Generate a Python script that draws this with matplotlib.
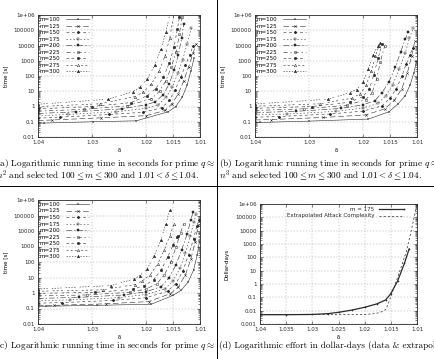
import matplotlib
matplotlib.use('Agg')
import matplotlib.pyplot as plt
from matplotlib.ticker import FixedLocator, NullFormatter, LogLocator

plt.rcParams['lines.scale_dashes'] = False
plt.rcParams['mathtext.fontset'] = 'cm'

W, H = 434, 359
M_VALUES = [100, 125, 150, 175, 200, 225, 250, 275, 300]

# ---------------------------------------------------------------
# (a) q ~ n^2 : delta / time per m
# ---------------------------------------------------------------
A_DELTA = [
    [1.0400, 1.0388, 1.0298, 1.0218, 1.0159, 1.0145, 1.0133, 1.0124, 1.0117, 1.0111],
    [1.0400, 1.0375, 1.0283, 1.0200, 1.0165, 1.0152, 1.0140, 1.0130, 1.0121, 1.0113, 1.0107],
    [1.0400, 1.0360, 1.0268, 1.0205, 1.0170, 1.0157, 1.0146, 1.0136, 1.0127, 1.0119, 1.0113],
    [1.0400, 1.0345, 1.0255, 1.0200, 1.0177, 1.0163, 1.0151, 1.0141, 1.0132, 1.0124, 1.0116],
    [1.0400, 1.0330, 1.0245, 1.0200, 1.0183, 1.0168, 1.0157, 1.0148, 1.0140, 1.0134, 1.0130],
    [1.0400, 1.0315, 1.0235, 1.0190, 1.0175, 1.0163, 1.0153, 1.0144, 1.0138, 1.0133],
    [1.0400, 1.0300, 1.0228, 1.0198, 1.0182, 1.0168, 1.0157, 1.0148, 1.0142, 1.0138],
    [1.0400, 1.0285, 1.0220, 1.0205, 1.0190, 1.0176, 1.0165, 1.0156, 1.0148],
    [1.0400, 1.0270, 1.0225, 1.0212, 1.0198, 1.0184, 1.0172, 1.0163, 1.0155],
]
A_TIME = [
    [0.080, 0.082, 0.10, 0.115, 0.45, 1.0, 4.0, 25, 200, 1500],
    [0.12, 0.13, 0.18, 0.25, 0.55, 1.5, 7, 50, 400, 3000, 13000],
    [0.17, 0.20, 0.30, 0.42, 0.85, 2.5, 12, 80, 500, 2500, 9000],
    [0.25, 0.30, 0.45, 0.75, 1.3, 4, 20, 150, 1200, 12000, 140000],
    [0.35, 0.45, 0.70, 1.3, 2.0, 6, 30, 250, 2500, 30000, 250000],
    [0.50, 0.65, 1.1, 3.2, 10, 50, 400, 4000, 60000, 700000],
    [0.70, 1.0, 1.8, 5, 15, 80, 700, 8000, 120000, 700000],
    [1.0, 1.5, 4.5, 9, 30, 200, 2000, 30000, 1500000],
    [1.4, 3.0, 9, 18, 60, 500, 6000, 80000, 1500000],
]

# ---------------------------------------------------------------
# (b) q ~ n^3
# ---------------------------------------------------------------
B_DELTA = [
    [1.0400, 1.0390, 1.0300, 1.0190, 1.0152, 1.0135, 1.0122, 1.0113, 1.0106, 1.0101],
    [1.0400, 1.0370, 1.0275, 1.0195, 1.0160, 1.0142, 1.0128, 1.0118, 1.0110, 1.0104],
    [1.0400, 1.0355, 1.0262, 1.0200, 1.0165, 1.0150, 1.0138, 1.0128, 1.0120, 1.0113, 1.0108],
    [1.0400, 1.0340, 1.0250, 1.0200, 1.0172, 1.0158, 1.0145, 1.0133, 1.0122, 1.0114, 1.0107],
    [1.0400, 1.0325, 1.0240, 1.0200, 1.0178, 1.0165, 1.0152, 1.0140, 1.0130, 1.0122, 1.0116],
    [1.0400, 1.0310, 1.0230, 1.0195, 1.0183, 1.0175, 1.0168, 1.0160],
    [1.0400, 1.0295, 1.0225, 1.0200, 1.0188, 1.0180, 1.0172, 1.0165],
    [1.0400, 1.0280, 1.0220, 1.0205, 1.0194, 1.0185, 1.0177, 1.0170],
    [1.0400, 1.0265, 1.0225, 1.0212, 1.0200, 1.0190, 1.0181, 1.0173, 1.0169],
]
B_TIME = [
    [0.09, 0.09, 0.11, 0.15, 0.45, 1.5, 5, 25, 150, 900],
    [0.13, 0.14, 0.19, 0.28, 0.7, 2.5, 15, 150, 2000, 20000],
    [0.20, 0.22, 0.32, 0.50, 1.1, 3.5, 15, 100, 600, 2500, 7000],
    [0.28, 0.32, 0.48, 0.80, 1.6, 5, 25, 300, 3000, 30000, 140000],
    [0.40, 0.48, 0.75, 1.3, 2.4, 8, 40, 400, 4000, 25000, 80000],
    [0.55, 0.70, 1.2, 2.8, 8, 60, 800, 9000],
    [0.75, 1.0, 1.9, 4.5, 15, 120, 1500, 12000],
    [1.05, 1.5, 3.5, 7, 25, 200, 2000, 10000],
    [1.45, 3.0, 8, 13, 40, 300, 2500, 9000, 15000],
]

# ---------------------------------------------------------------
# (c) third prime size
# ---------------------------------------------------------------
C_DELTA = [
    [1.0400, 1.0385, 1.0290, 1.0190, 1.0150, 1.0135, 1.0122, 1.0112, 1.0105, 1.0101],
    [1.0400, 1.0370, 1.0275, 1.0195, 1.0155, 1.0140, 1.0127, 1.0117, 1.0109, 1.0103],
    [1.0400, 1.0355, 1.0262, 1.0200, 1.0160, 1.0145, 1.0132, 1.0121, 1.0112, 1.0106, 1.0102],
    [1.0400, 1.0340, 1.0250, 1.0200, 1.0165, 1.0150, 1.0137, 1.0127, 1.0118, 1.0111, 1.0107],
    [1.0400, 1.0325, 1.0240, 1.0200, 1.0172, 1.0158, 1.0145, 1.0134, 1.0124, 1.0117, 1.0113],
    [1.0400, 1.0310, 1.0230, 1.0200, 1.0180, 1.0166, 1.0154, 1.0144, 1.0136, 1.0130],
    [1.0400, 1.0295, 1.0225, 1.0203, 1.0186, 1.0172, 1.0160, 1.0150, 1.0143, 1.0140],
    [1.0400, 1.0280, 1.0220, 1.0207, 1.0192, 1.0178, 1.0166, 1.0156, 1.0148],
    [1.0400, 1.0265, 1.0222, 1.0212, 1.0198, 1.0185, 1.0173, 1.0163, 1.0156],
]
C_TIME = [
    [0.14, 0.14, 0.16, 0.19, 0.7, 1.5, 5, 30, 300, 2200],
    [0.15, 0.16, 0.20, 0.28, 0.9, 2.5, 15, 150, 2000, 25000],
    [0.22, 0.24, 0.33, 0.50, 1.3, 4, 25, 300, 3000, 20000, 50000],
    [0.32, 0.36, 0.50, 0.80, 1.8, 6, 40, 400, 5000, 40000, 120000],
    [0.45, 0.52, 0.75, 1.2, 2.6, 9, 60, 600, 6000, 50000, 160000],
    [0.65, 0.75, 1.1, 1.8, 4, 15, 100, 1000, 8000, 30000],
    [0.95, 1.1, 1.7, 3, 7, 30, 200, 1200, 4000, 5000],
    [1.3, 1.6, 3.5, 6, 15, 80, 600, 5000, 30000],
    [1.8, 3.0, 8, 13, 35, 250, 2500, 30000, 230000],
]

# ---------------------------------------------------------------
# (d) dollar-days, m = 175 and extrapolation
# ---------------------------------------------------------------
D_DELTA = [1.040, 1.035, 1.030, 1.027, 1.025, 1.0225, 1.020, 1.0177, 1.016,
           1.015, 1.0137, 1.0124, 1.0115]
D_COST = [0.005, 0.005, 0.0052, 0.006, 0.0075, 0.011, 0.018, 0.032, 0.063,
          0.19, 1.7, 36, 430]
EXT_DELTA = [1.040, 1.035, 1.030, 1.025, 1.020, 1.018, 1.017, 1.016, 1.0155,
             1.015, 1.014, 1.013, 1.012, 1.011, 1.010]
EXT_COST = [0.005, 0.005, 0.005, 0.005, 0.0052, 0.006, 0.0075, 0.012, 0.03,
            0.12, 1.5, 20, 300, 15000, 1000000]

LINE = '#2a2a2a'
GRID = '#a0a0a0'
TICK_FS = 4.0

# gnuplot monochrome line types / point types
STYLES = [
    dict(ls='-', marker='+', mfc='none'),
    dict(ls=(0, (4, 2)), marker='x', mfc='none'),
    dict(ls=(0, (2, 2)), marker=(8, 2, 0), mfc='none'),
    dict(ls=(0, (1, 1.5)), marker='s', mfc='none'),
    dict(ls=(0, (4, 1.5, 1, 1.5)), marker='s', mfc=LINE),
    dict(ls=(0, (3, 2, 1, 2)), marker='o', mfc='none'),
    dict(ls=(0, (2, 1.5, 2, 3)), marker='o', mfc=LINE),
    dict(ls=(0, (1.5, 1.5, 1.5, 1.5, 1.5, 3)), marker='^', mfc='none'),
    dict(ls=(0, (1, 1, 1, 1, 1, 1, 1, 3)), marker='^', mfc=LINE),
]


def px_box(left, top, right, bottom):
    return [left / W, 1 - bottom / H, (right - left) / W, (bottom - top) / H]


def style_axes(ax, xticks, xlabels, ymin_exp, ylabel):
    ax.set_yscale('log')
    ax.set_xlim(1.04, 1.01)
    ax.set_ylim(10.0 ** ymin_exp, 1e6)
    ax.xaxis.set_major_locator(FixedLocator(xticks))
    ax.set_xticklabels(xlabels)
    yt = [10.0 ** e for e in range(ymin_exp, 7)]
    ylab = []
    for e in range(ymin_exp, 7):
        if e < 0:
            ylab.append(('%.' + str(-e) + 'f') % (10.0 ** e))
        elif e < 6:
            ylab.append(str(10 ** e))
        else:
            ylab.append('1e+06')
    ax.yaxis.set_major_locator(FixedLocator(yt))
    ax.set_yticklabels(ylab)
    ax.yaxis.set_minor_locator(LogLocator(base=10, subs=range(2, 10), numticks=20))
    ax.yaxis.set_minor_formatter(NullFormatter())
    ax.tick_params(which='both', direction='in', top=True, right=True,
                   width=0.4, colors=LINE, labelsize=TICK_FS, pad=2.5)
    ax.tick_params(which='major', length=2.2)
    ax.tick_params(which='minor', length=1.1)
    ax.grid(True, which='major', color=GRID, lw=0.35, ls=(0, (1, 1.2)))
    for s in ax.spines.values():
        s.set_linewidth(0.6)
        s.set_color(LINE)
    ax.set_xlabel('δ', fontsize=TICK_FS, labelpad=2)
    ax.set_ylabel(ylabel, fontsize=TICK_FS, labelpad=4)


def runtime_panel(box, deltas, times):
    ax = fig.add_axes(box)
    for m, d, t, st in zip(M_VALUES, deltas, times, STYLES):
        ax.plot(d, t, color=LINE, lw=0.4, ls=st['ls'], marker=st['marker'],
                ms=1.8, mew=0.35, mfc=st['mfc'], mec=LINE, label=f'm={m}')
    style_axes(ax, [1.04, 1.03, 1.02, 1.015, 1.01],
               ['1.04', '1.03', '1.02', '1.015', '1.01'], -2, 'time [s]')
    ax.legend(loc='upper left', markerfirst=False, frameon=False,
              fontsize=TICK_FS, handlelength=4.2, handletextpad=1.0,
              labelspacing=0.28, borderaxespad=0.15, borderpad=0.2)
    return ax


fig = plt.figure(figsize=(W / 100, H / 100), dpi=100)

runtime_panel(px_box(38, 15, 200, 137), A_DELTA, A_TIME)
runtime_panel(px_box(255, 15, 417, 137), B_DELTA, B_TIME)
runtime_panel(px_box(38, 200, 200, 324), C_DELTA, C_TIME)

axd = fig.add_axes(px_box(260, 204, 417, 324))
axd.plot(D_DELTA, D_COST, color=LINE, lw=0.9, marker='+', ms=1.8, mew=0.4)
axd.plot(EXT_DELTA, EXT_COST, color=LINE, lw=0.5, ls=(0, (1.5, 1.5)))
style_axes(axd, [1.04, 1.035, 1.03, 1.025, 1.02, 1.015, 1.01],
           ['1.04', '1.035', '1.03', '1.025', '1.02', '1.015', '1.01'], -3,
           'Dollar-days')
# gnuplot style key: right-justified text, sample on the right
axd.text(0.73, 0.955, 'm = 175', transform=axd.transAxes, ha='right',
         va='center', fontsize=TICK_FS, color=LINE)
axd.plot([0.76, 0.92], [0.955, 0.955], transform=axd.transAxes,
         color=LINE, lw=0.9, marker='+', ms=1.8, mew=0.4, markevery=[1],
         clip_on=False)
axd.text(0.73, 0.9, 'Extrapolated Attack Complexity', transform=axd.transAxes,
         ha='right', va='center', fontsize=TICK_FS, color=LINE)
axd.plot([0.76, 0.92], [0.9, 0.9], transform=axd.transAxes,
         color=LINE, lw=0.5, ls=(0, (1.5, 1.5)), clip_on=False)

# captions (LaTeX look)
CAP = dict(fontsize=6.6, family='cmr10', color='black', va='center')


def cap(x, y, s):
    fig.text(x / W, 1 - y / H, s, **CAP)


cap(-4.5, 164, r'(a) Logarithmic running time in seconds for prime $q \approx$')
cap(-4.5, 175.5, r'$n^2$ and selected $100 \leq m \leq 300$ and $1.01 < \delta \leq 1.04$.')
cap(219, 164, r'(b) Logarithmic running time in seconds for prime $q \approx$')
cap(219, 175.5, r'$n^3$ and selected $100 \leq m \leq 300$ and $1.01 < \delta \leq 1.04$.')
cap(-4.5, 346, r'(c) Logarithmic running time in seconds for prime $q \approx$')
cap(219, 346, r'(d) Logarithmic effort in dollar-days (data & extrapolation)')

# page rules from the surrounding table
fig.add_artist(plt.Line2D([217 / W, 217 / W], [0, 1], color='black', lw=0.7))
fig.add_artist(plt.Line2D([0, 1], [1 - 186 / H, 1 - 186 / H], color='black', lw=0.7))

fig.savefig('out.png', dpi=100)
